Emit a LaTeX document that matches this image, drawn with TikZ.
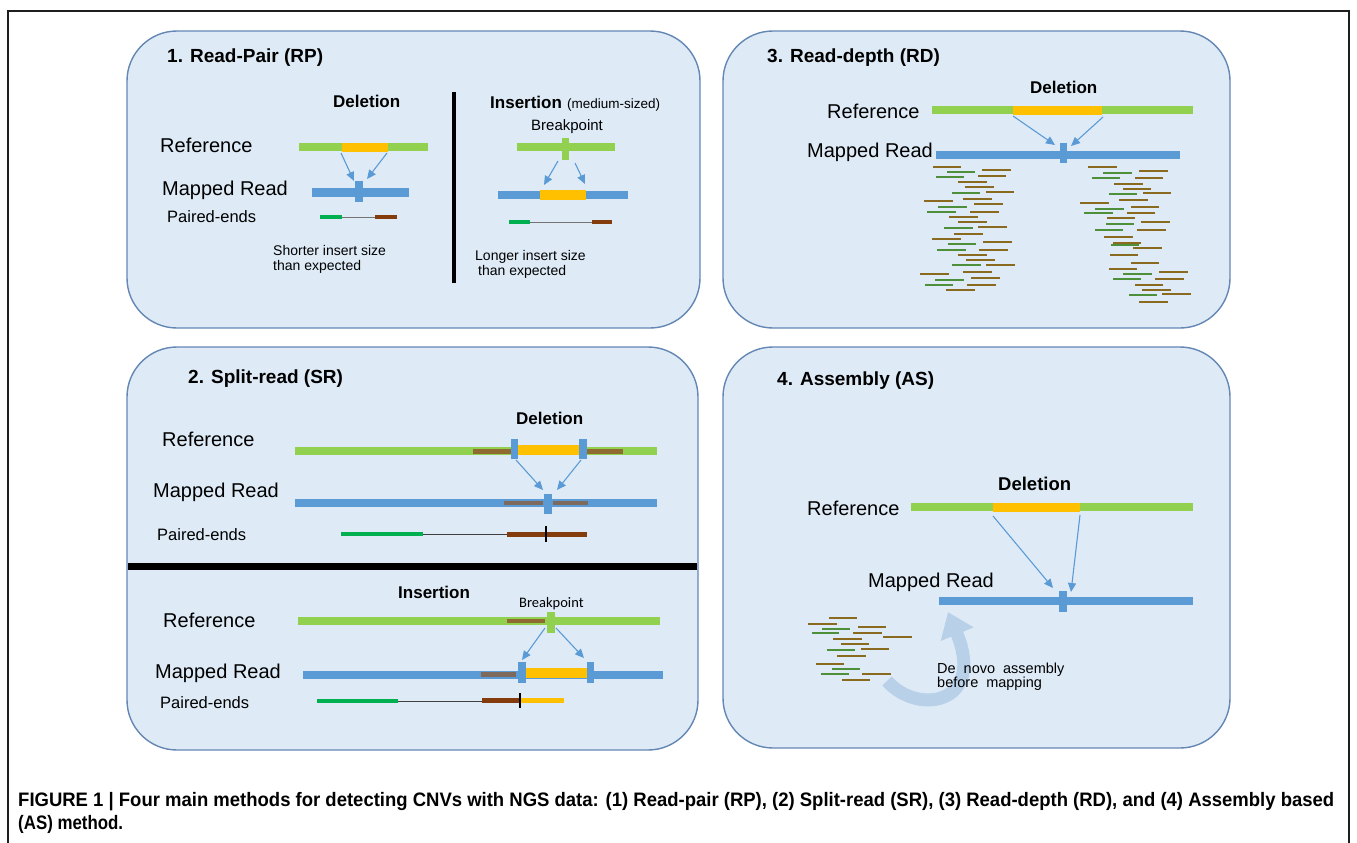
\documentclass[tikz,border=0pt]{standalone}
\usepackage{fontspec}
\setmainfont{Liberation Sans}
\newfontfamily\calfont{Carlito}
\usepackage{graphicx}
\usetikzlibrary{arrows.meta}

\definecolor{panelfill}{HTML}{DEEBF7}
\definecolor{panelline}{HTML}{6487B4}
\definecolor{refgreen}{HTML}{92D050}
\definecolor{delorange}{HTML}{FFC000}
\definecolor{readblue}{HTML}{5B9BD5}
\definecolor{pegreen}{HTML}{00B050}
\definecolor{pebrown}{HTML}{843C0C}
\definecolor{srbrown}{HTML}{8F6B32}
\definecolor{srgray}{HTML}{7E6A5C}
\definecolor{rdbrown}{HTML}{8A6A1E}
\definecolor{rdgreen}{HTML}{4E8F3A}
\definecolor{arrowblue}{HTML}{5B9BD5}
\definecolor{swoosh}{HTML}{B9D0E9}
\definecolor{framegray}{HTML}{1E1E1E}

% filled bar segment: colour, x from, x to, y centre, height
\newcommand{\seg}[5]{\fill[#1] (#2,{#4-#5/2}) rectangle (#3,{#4+#5/2});}
% one short sequencing read: colour, x from, x to, y
\newcommand{\rd}[4]{\draw[shortread,#1] (#2,#4) -- (#3,#4);}
\newcommand{\widewords}{\spaceskip=0.55em\relax}

\tikzset{
  panel/.style={draw=panelline, fill=panelfill, line width=1.4pt, rounded corners=50pt},
  lbl/.style={anchor=base west, inner sep=0pt, font=\fontsize{20}{24}\selectfont},
  pelbl/.style={anchor=base west, inner sep=0pt, font=\fontsize{16.5}{20}\selectfont},
  head/.style={anchor=base west, inner sep=0pt, font=\fontsize{19}{23}\selectfont\bfseries},
  sub/.style={anchor=base west, inner sep=0pt, font=\fontsize{17}{20}\selectfont\bfseries},
  note/.style={anchor=base west, inner sep=0pt, font=\fontsize{14}{17}\selectfont},
  maparrow/.style={draw=arrowblue, line width=1.1pt, -{Triangle[length=9pt,width=8pt]}},
  pairline/.style={draw=black!55, line width=0.8pt},
  shortread/.style={line width=2.8pt},
  capline/.style={anchor=base west, inner sep=0pt}
}

\begin{document}
\begin{tikzpicture}[x=1pt, y=-1pt]
\useasboundingbox (0,0) rectangle (1357,843);
\fill[white] (0,0) rectangle (1357,843);

% outer frame
\draw[framegray, line width=2pt] (8,843) -- (8,11.5) -- (1349,11.5) -- (1349,843);

% ---------- panels ----------
\path[panel] (127,31) rectangle (700,328);
\path[panel] (723,31) rectangle (1230,328);
\path[panel] (127,347) rectangle (698,750);
\path[panel] (723,347) rectangle (1230,748);

% ========== 1. Read-Pair ==========
\node[head] (t1) at (167,63) {1. Read-Pair (RP)};
\node[sub] (p1del) at (333,107) {Deletion};
\node[lbl] (p1ref) at (160,152) {Reference};
\node[lbl] (p1map) at (162,195) {Mapped Read};
\node[pelbl] (p1pe) at (167,222) {Paired-ends};

\seg{refgreen}{299}{428}{147}{8}
\seg{delorange}{342}{388}{147}{9}
\seg{readblue}{312}{409}{192}{9}
\seg{readblue}{355}{363}{191.5}{21}
\coordinate (p1a1) at (341,153); \coordinate (p1b1) at (354,181);
\coordinate (p1a2) at (387,153); \coordinate (p1b2) at (367,179);
\draw[maparrow] (p1a1) -- (p1b1);
\draw[maparrow] (p1a2) -- (p1b2);

\coordinate (p1g) at (342,217); \coordinate (p1b) at (375,217);
\draw[pairline] (p1g) -- (p1b);
\seg{pegreen}{320}{342}{217}{4.5}
\seg{pebrown}{375}{397}{217}{4.5}
\node[note] (p1s1) at (273,255) {Shorter insert size};
\node[note] (p1s2) at (273,270) {than expected};

\fill[black] (452,92) rectangle (456,283);

\node[sub] (p1ins) at (490,108) {Insertion};
\node[anchor=base west, inner sep=0pt, font=\fontsize{13.5}{16}\selectfont] (p1med) at (567,108) {(medium-sized)};
\node[anchor=base west, inner sep=0pt, font=\fontsize{15}{18}\selectfont] (p1bp) at (531,130) {Breakpoint};

\seg{refgreen}{517}{615}{147}{8}
\seg{refgreen}{562}{569}{149}{22}
\seg{readblue}{498}{628}{195}{8}
\seg{delorange}{540}{586}{195}{10}
\coordinate (p1c1) at (558,161); \coordinate (p1d1) at (544,185);
\coordinate (p1c2) at (575,163); \coordinate (p1d2) at (585,184);
\draw[maparrow] (p1c1) -- (p1d1);
\draw[maparrow] (p1c2) -- (p1d2);

\coordinate (p1ig) at (530,222); \coordinate (p1ib) at (592,222);
\draw[pairline] (p1ig) -- (p1ib);
\seg{pegreen}{509}{530}{222}{4.5}
\seg{pebrown}{592}{612}{222}{4.5}
\node[note] (p1l1) at (475,260) {Longer insert size};
\node[note] (p1l2) at (478,275) {than expected};

% ========== 3. Read-depth ==========
\node[head] (t3) at (767,63) {3. Read-depth (RD)};
\node[sub] (p3del) at (1030,93) {Deletion};
\node[lbl] (p3ref) at (827,118) {Reference};
\node[lbl] (p3map) at (807,157) {Mapped Read};

\seg{refgreen}{932}{1193}{110}{8}
\seg{delorange}{1013}{1102}{110}{9}
\seg{readblue}{936}{1180}{154.5}{8}
\seg{readblue}{1060}{1067}{153}{20}
\coordinate (p3a1) at (1013,116); \coordinate (p3b1) at (1055,145);
\coordinate (p3a2) at (1103,117); \coordinate (p3b2) at (1071,146);
\draw[maparrow] (p3a1) -- (p3b1);
\draw[maparrow] (p3a2) -- (p3b2);

% reads piled up left of the deletion
\rd{rdbrown}{933}{961}{167} \rd{rdgreen}{947}{975}{172} \rd{rdbrown}{982}{1011}{170}
\rd{rdgreen}{936}{964}{177} \rd{rdbrown}{978}{1006}{176} \rd{rdbrown}{958}{987}{182}
\rd{rdbrown}{965}{994}{187} \rd{rdgreen}{952}{980}{193} \rd{rdbrown}{986}{1014}{192}
\rd{rdbrown}{924}{953}{201} \rd{rdbrown}{963}{992}{199} \rd{rdgreen}{938}{967}{207}
\rd{rdbrown}{974}{1003}{204} \rd{rdgreen}{927}{956}{212} \rd{rdbrown}{970}{999}{212}
\rd{rdbrown}{949}{978}{217} \rd{rdbrown}{958}{987}{222} \rd{rdgreen}{944}{973}{228}
\rd{rdbrown}{978}{1007}{227} \rd{rdbrown}{954}{983}{234} \rd{rdbrown}{932}{961}{239}
\rd{rdgreen}{948}{976}{244} \rd{rdbrown}{983}{1012}{242} \rd{rdgreen}{937}{966}{250}
\rd{rdbrown}{979}{1008}{250} \rd{rdbrown}{958}{987}{255} \rd{rdbrown}{966}{995}{260}
\rd{rdgreen}{952}{981}{265} \rd{rdbrown}{986}{1015}{265} \rd{rdbrown}{920}{949}{274}
\rd{rdbrown}{963}{992}{272} \rd{rdgreen}{935}{964}{280} \rd{rdbrown}{971}{1000}{278}
\rd{rdgreen}{925}{953}{285} \rd{rdbrown}{967}{996}{285} \rd{rdbrown}{946}{975}{290}

% reads piled up right of the deletion
\rd{rdbrown}{1088}{1117}{167} \rd{rdgreen}{1103}{1132}{173} \rd{rdbrown}{1139}{1168}{171}
\rd{rdgreen}{1092}{1120}{178} \rd{rdbrown}{1135}{1163}{178} \rd{rdbrown}{1114}{1143}{184}
\rd{rdbrown}{1123}{1151}{189} \rd{rdgreen}{1109}{1137}{194} \rd{rdbrown}{1143}{1171}{193}
\rd{rdbrown}{1119}{1148}{200} \rd{rdbrown}{1080}{1109}{203} \rd{rdbrown}{1131}{1159}{207}
\rd{rdgreen}{1095}{1124}{209} \rd{rdgreen}{1084}{1113}{213} \rd{rdbrown}{1127}{1155}{213}
\rd{rdbrown}{1107}{1135}{218} \rd{rdbrown}{1141}{1170}{222} \rd{rdgreen}{1106}{1134}{224}
\rd{rdgreen}{1095}{1123}{230} \rd{rdbrown}{1137}{1166}{230} \rd{rdbrown}{1104}{1133}{237}
\rd{rdbrown}{1113}{1141}{243} \rd{rdgreen}{1111}{1139}{245} \rd{rdbrown}{1133}{1162}{248}
\rd{rdbrown}{1110}{1138}{255} \rd{rdbrown}{1131}{1159}{263} \rd{rdbrown}{1109}{1137}{269}
\rd{rdbrown}{1159}{1188}{272} \rd{rdgreen}{1123}{1152}{274} \rd{rdgreen}{1113}{1141}{279}
\rd{rdbrown}{1155}{1184}{279} \rd{rdbrown}{1135}{1163}{285} \rd{rdbrown}{1142}{1171}{290}
\rd{rdgreen}{1129}{1157}{295} \rd{rdbrown}{1162}{1191}{294} \rd{rdbrown}{1139}{1168}{302}

% ========== 2. Split-read ==========
\node[head] (t2) at (188,383) {2. Split-read (SR)};
\node[sub] (p2del) at (516,424) {Deletion};
\node[lbl] (p2ref) at (162,446) {Reference};
\node[lbl] (p2map) at (153,497) {Mapped Read};
\node[pelbl] (p2pe) at (157,540) {Paired-ends};

\seg{refgreen}{295}{657}{451}{8}
\seg{srbrown}{473}{512}{451}{5}
\seg{srbrown}{587}{623}{451}{5}
\seg{delorange}{517}{579}{450}{10}
\seg{readblue}{511}{518}{449}{20}
\seg{readblue}{579}{587}{449}{20}
\coordinate (p2a1) at (516,460); \coordinate (p2b1) at (543,490);
\coordinate (p2a2) at (581,460); \coordinate (p2b2) at (557,490);
\draw[maparrow] (p2a1) -- (p2b1);
\draw[maparrow] (p2a2) -- (p2b2);

\seg{readblue}{295}{657}{503}{8}
\seg{srgray}{504}{543}{503}{4.5}
\seg{srgray}{553}{588}{503}{4.5}
\seg{readblue}{544}{552}{504}{20}

\coordinate (p2g) at (423,534); \coordinate (p2b) at (507,534);
\draw[pairline, draw=black!75] (p2g) -- (p2b);
\seg{pegreen}{341}{423}{534}{4.5}
\seg{pebrown}{507}{587}{534.5}{5}
\draw[black, line width=1.1pt] (546,526) -- (546,542);

\fill[black] (127.7,563) rectangle (697.3,570);

\node[sub] (p2ins) at (398,598) {Insertion};
\node[anchor=base west, inner sep=0pt, font=\calfont\fontsize{14.5}{17}\selectfont] (p2bp) at (519,607) {Breakpoint};
\node[lbl] (p2ref2) at (163,627) {Reference};
\node[lbl] (p2map2) at (155,678) {Mapped Read};
\node[pelbl] (p2pe2) at (160,708) {Paired-ends};

\seg{refgreen}{298}{660}{621}{8}
\seg{srbrown}{507}{545}{621}{4.5}
\seg{refgreen}{547}{555}{622.5}{21}
\coordinate (p2c1) at (545,628); \coordinate (p2d1) at (522,660);
\coordinate (p2c2) at (556,628); \coordinate (p2d2) at (584,658);
\draw[maparrow] (p2c1) -- (p2d1);
\draw[maparrow] (p2c2) -- (p2d2);

\seg{readblue}{303}{663}{674.5}{8}
\seg{srgray}{481}{516}{674.5}{4.5}
\seg{delorange}{526}{587}{673}{9.5}
\seg{readblue}{518}{526}{672.5}{21}
\seg{readblue}{587}{594}{672.5}{21}

\coordinate (p2ig) at (398,701); \coordinate (p2ib) at (482,701);
\draw[pairline, draw=black!75] (p2ig) -- (p2ib);
\seg{pegreen}{317}{398}{701}{4.5}
\seg{pebrown}{482}{520}{700.5}{5}
\seg{delorange}{521}{564}{700.5}{5}
\draw[black, line width=1.1pt] (520,693) -- (520,708);

% ========== 4. Assembly ==========
\node[head] (t4) at (777,385) {4. Assembly (AS)};
\node[sub, font=\fontsize{18.5}{22}\selectfont\bfseries] (p4del) at (998,490) {Deletion};
\node[lbl] (p4ref) at (807,515) {Reference};
\node[lbl] (p4map) at (868,587) {Mapped Read};

\seg{refgreen}{911}{1193}{507}{8}
\seg{delorange}{993}{1080}{507}{9}
\seg{readblue}{939}{1193}{600.5}{8}
\seg{readblue}{1059}{1067}{601.5}{21}
\coordinate (p4a1) at (993,516); \coordinate (p4b1) at (1053,588);
\coordinate (p4a2) at (1080,515); \coordinate (p4b2) at (1071,592);
\draw[maparrow] (p4a1) -- (p4b1);
\draw[maparrow] (p4a2) -- (p4b2);

% de novo assembly swoosh
\coordinate (p4s) at (887,681); \coordinate (p4e) at (948,612);
\draw[draw=swoosh, line width=13pt, -{Triangle[length=24pt,width=34pt]}]
  (p4s) .. controls (918,716) and (986,704) .. (p4e);

\rd{rdbrown}{829}{857}{618} \rd{rdbrown}{808}{837}{624} \rd{rdgreen}{822}{850}{629}
\rd{rdbrown}{858}{886}{627} \rd{rdgreen}{812}{839}{633} \rd{rdbrown}{853}{882}{633}
\rd{rdbrown}{833}{862}{639} \rd{rdbrown}{883}{912}{637} \rd{rdbrown}{841}{869}{644}
\rd{rdgreen}{827}{855}{650} \rd{rdbrown}{861}{889}{649} \rd{rdbrown}{837}{866}{656}
\rd{rdbrown}{816}{844}{664} \rd{rdgreen}{832}{860}{669} \rd{rdgreen}{821}{849}{674}
\rd{rdbrown}{862}{891}{674} \rd{rdbrown}{842}{870}{680}

\node[note, font=\fontsize{14.5}{17}\selectfont] (p4t1) at (937,673) {\widewords De novo assembly};
\node[note, font=\fontsize{14.5}{17}\selectfont] (p4t2) at (937,687) {\widewords before mapping};

% ---------- caption ----------
\node[capline] (cap1) at (18,806) {\resizebox{1316pt}{\height}{\fontsize{19.5}{23}\selectfont\bfseries FIGURE 1 | Four main methods for detecting CNVs with NGS data: (1) Read-pair (RP), (2) Split-read (SR), (3) Read-depth (RD), and (4) Assembly based}};
\node[capline] (cap2) at (18,829) {\resizebox{105pt}{\height}{\fontsize{19.5}{23}\selectfont\bfseries (AS) method.}};
\end{tikzpicture}
\end{document}
